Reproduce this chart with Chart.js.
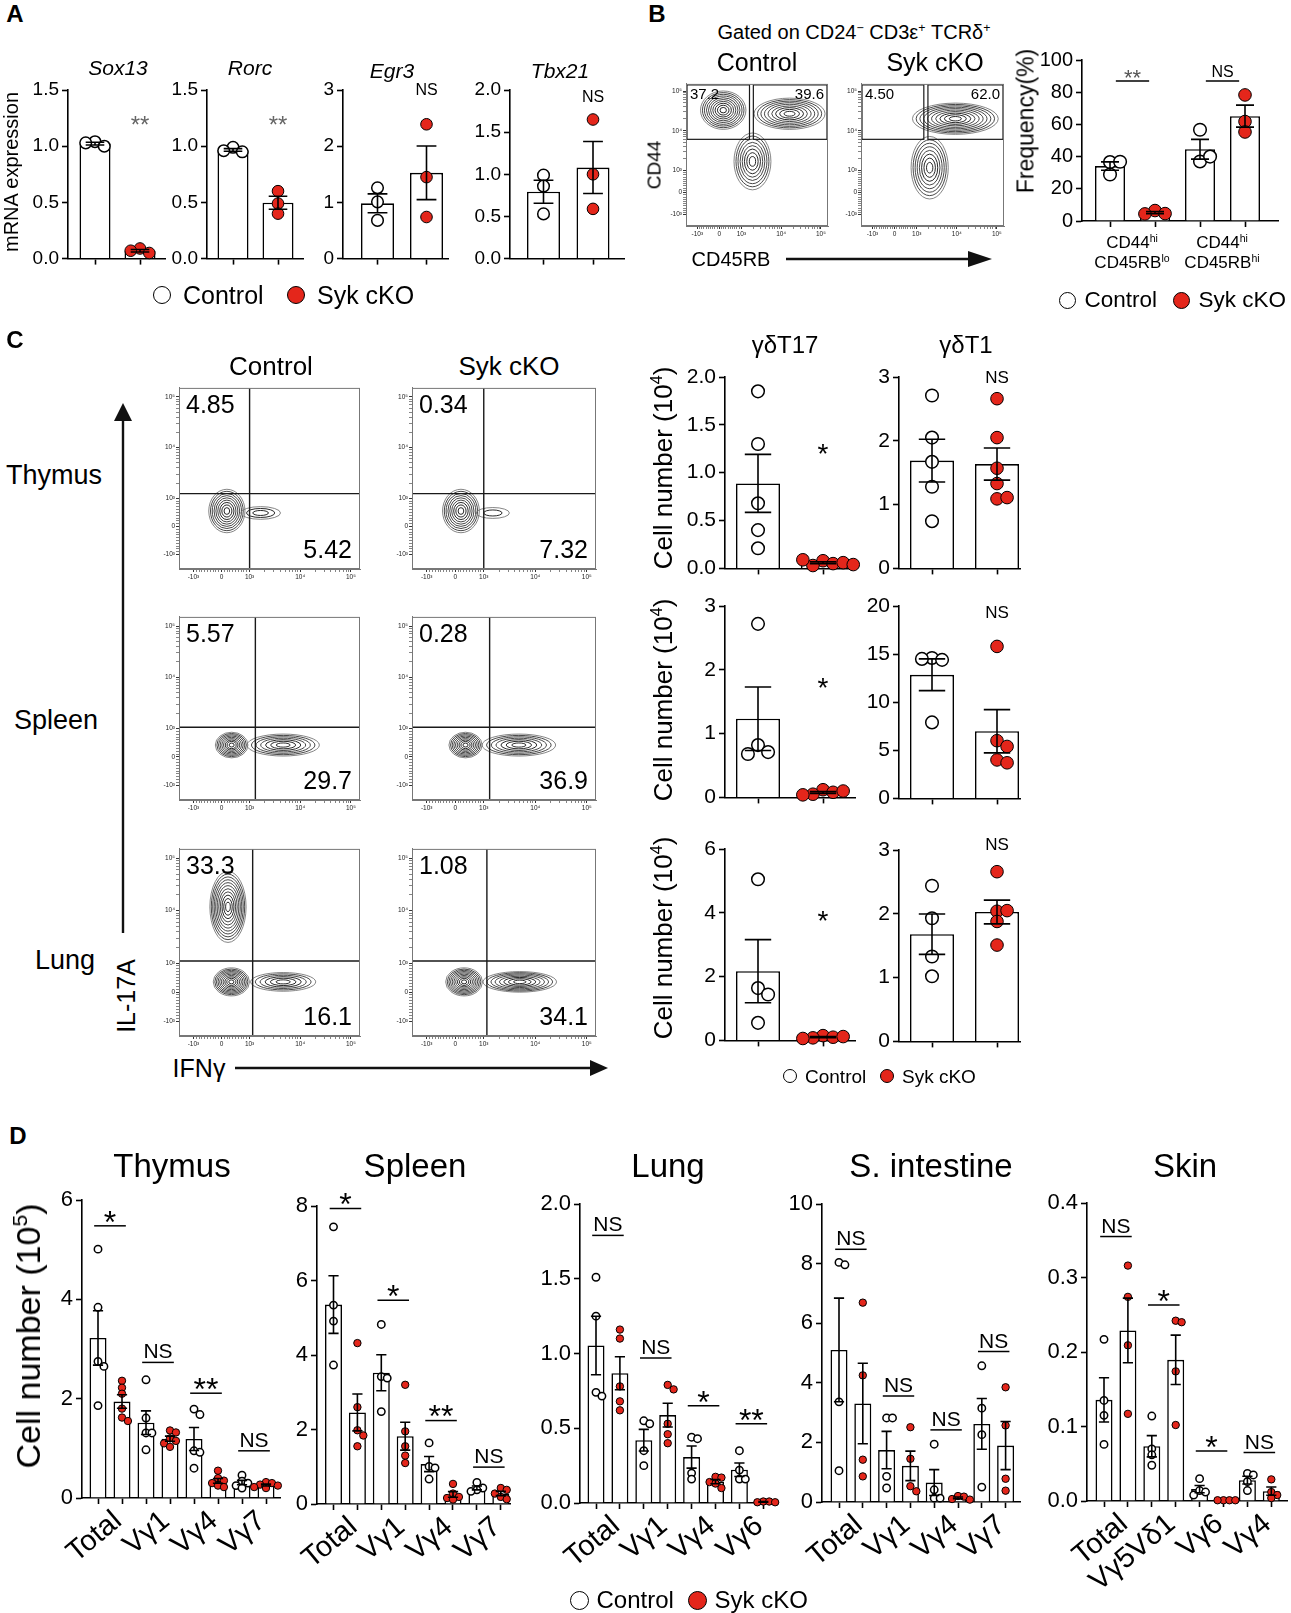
<!DOCTYPE html>
<html>
<head>
<meta charset="utf-8">
<script src="https://cdn.jsdelivr.net/npm/chart.js@4.4.1/dist/chart.umd.min.js"></script>
<style>
  html, body { margin: 0; padding: 0; background: #fff; }
  #page { position: relative; width: 1291px; height: 1613px; overflow: hidden; background: #fff;
          font-family: "Liberation Sans", Arial, sans-serif; }
  #page canvas { position: absolute; }
  .t { position: absolute; white-space: nowrap; color: #000; line-height: 1; }
  .t sup { font-size: 0.62em; vertical-align: 0.6em; line-height: 0; }
  .dot { position: absolute; border-radius: 50%; box-sizing: border-box; }
</style>
</head>
<body>
<div id="page"></div>
<script>
Chart.defaults.font.family = '"Liberation Sans", Arial, sans-serif';
Chart.defaults.color = '#000';

var RED = '#e4261b';
var page = document.getElementById('page');

// ---- A : mRNA expression (3 mice per group)
var sox13Ctrl = [1.04, 1.00, 1.03];
var sox13Cko  = [0.09, 0.05, 0.07];
var rorcCtrl  = [0.99, 0.95, 0.96];
var rorcCko   = [0.60, 0.49, 0.40];
var egr3Ctrl  = [1.26, 1.01, 0.68];
var egr3Cko   = [2.39, 1.45, 0.74];
var tbx21Ctrl = [0.99, 0.86, 0.53];
var tbx21Cko  = [1.65, 1.00, 0.59];

// ---- B : frequency of CD44hi subsets
var freqCtrl = [[36.6, 36.8, 28.9], [56.7, 37.0, 40.0]];
var freqCko  = [[6.5, 4.6, 4.4], [78.3, 61.8, 55.3]];
var freqSig  = [['**', 87], ['NS', 87]];

// ---- C : gdT17 / gdT1 cell numbers (10^4)
var t17ThyCtrl = [1.85, 1.30, 0.68, 0.40, 0.21];
var t17ThyCko  = [0.08, 0.05, 0.03, 0.06, 0.09, 0.04];
var t1ThyCtrl  = [2.71, 2.05, 1.67, 1.28, 0.74];
var t1ThyCko   = [2.66, 2.05, 1.57, 1.33, 1.09, 1.11];
var t17SplCtrl = [2.72, 0.82, 0.71, 0.68];
var t17SplCko  = [0.12, 0.08, 0.05, 0.10, 0.04];
var t1SplCtrl  = [14.6, 14.4, 14.5, 7.9];
var t1SplCko   = [15.8, 6.0, 5.4, 4.0, 3.7];
var t17LunCtrl = [5.05, 1.64, 1.44, 0.55];
var t17LunCko  = [0.15, 0.10, 0.08, 0.12, 0.06];
var t1LunCtrl  = [2.44, 1.93, 1.33, 1.02];
var t1LunCko   = [2.66, 2.04, 2.05, 1.88, 1.51];

// ---- C : flow plots (quadrant %, gates, populations [IFNg, IL-17A, spread x, spread y, rings])
var thyCtrlNums = ['4.85', '5.42'], thyCkoNums = ['0.34', '7.32'];
var splCtrlNums = ['5.57', '29.7'], splCkoNums = ['0.28', '36.9'];
var lunCtrlNums = ['33.3', '16.1'], lunCkoNums = ['1.08', '34.1'];
var thyQuad = [1000, 1240], splQuad = [1300, 1060], lunQuad = [1150, 1090];
var thyCtrlPops = [[190, 550, 0.10, 0.12, 9], [1650, 480, 0.11, 0.035, 3]];
var thyCkoPops  = [[200, 550, 0.10, 0.12, 9], [1500, 480, 0.09, 0.03, 2]];
var splCtrlPops = [[360, 420, 0.09, 0.07, 9], [4600, 420, 0.20, 0.06, 7]];
var splCkoPops  = [[360, 420, 0.09, 0.07, 9], [4800, 420, 0.20, 0.06, 7]];
var lunCtrlPops = [[350, 350, 0.10, 0.075, 10], [4600, 350, 0.18, 0.05, 6], [230, 11800, 0.10, 0.19, 11]];
var lunCkoPops  = [[310, 350, 0.10, 0.075, 10], [5000, 350, 0.20, 0.055, 8]];

// ---- B : flow plots [CD45RB, CD44, ...]
var bCtrlNums = ['37.2', '39.6'], bCkoNums = ['4.50', '62.0'];
var bCtrlGates = [[null, 1600, 6100, null], [2000, null, 6100, null]];
var bCkoGates  = [[null, 1500, 6100, null], [1900, null, 6100, null]];
var bCtrlPops = [[1900, 1700, 0.13, 0.20, 8], [175, 33000, 0.16, 0.135, 10], [16300, 26800, 0.25, 0.11, 9]];
var bCkoPops  = [[2100, 1180, 0.13, 0.22, 8], [9200, 20100, 0.30, 0.11, 10]];

var flowTickVals = [-1000, 0, 1000, 10000, 100000];
var flowTickText = ['-10³', '0', '10³', '10⁴', '10⁵'];

// ---- D : cell numbers (10^5) per subset
var thyCats = ['Total', 'Vγ1', 'Vγ4', 'Vγ7'];
var thyCtrl = [[5.01, 3.84, 2.75, 2.65, 1.86], [2.38, 1.61, 1.31, 1.31, 0.97], [1.79, 1.68, 0.95, 0.92, 0.60], [0.46, 0.34, 0.30, 0.25, 0.20]];
var thyCko  = [[2.36, 2.22, 2.10, 1.80, 1.62, 1.55], [1.36, 1.32, 1.20, 1.15, 1.10, 1.03], [0.55, 0.40, 0.35, 0.30, 0.25, 0.22], [0.32, 0.30, 0.27, 0.25, 0.22, 0.20]];
var thySig  = [['*', 5.48], ['NS', 2.73], ['**', 2.11], ['NS', 0.95]];

var splCats = ['Total', 'Vγ1', 'Vγ4', 'Vγ7'];
var splCtrl = [[7.44, 5.34, 4.91, 3.73], [4.82, 3.42, 3.38, 2.48], [1.64, 1.01, 0.97, 0.67], [0.58, 0.43, 0.38, 0.34]];
var splCko  = [[4.32, 2.60, 1.98, 1.84, 1.55], [3.20, 1.95, 1.55, 1.30, 1.10], [0.54, 0.28, 0.19, 0.16, 0.12], [0.43, 0.38, 0.28, 0.19, 0.13]];
var splSig  = [['*', 7.93], ['*', 5.47], ['**', 2.24], ['NS', 0.99]];

var lunCats = ['Total', 'Vγ1', 'Vγ4', 'Vγ6'];
var lunCtrl = [[1.51, 1.25, 0.74, 0.715], [0.55, 0.53, 0.35, 0.25], [0.44, 0.43, 0.20, 0.16], [0.35, 0.22, 0.16, 0.16]];
var lunCko  = [[1.16, 1.10, 0.78, 0.68, 0.62], [0.79, 0.76, 0.53, 0.46, 0.40], [0.175, 0.17, 0.14, 0.13, 0.10], [0.01, 0.01, 0.005, 0.005]];
var lunSig  = [['NS', 1.79], ['NS', 0.97], ['*', 0.65], ['**', 0.53]];

var sinCats = ['Total', 'Vγ1', 'Vγ4', 'Vγ7'];
var sinCtrl = [[8.04, 7.96, 3.36, 1.05], [2.82, 2.82, 0.86, 0.47], [1.94, 0.41, 0.13, 0.13], [4.57, 3.15, 2.26, 0.50]];
var sinCko  = [[6.69, 4.25, 1.42, 0.86], [2.51, 1.45, 0.53, 0.36], [0.20, 0.18, 0.10, 0.08], [3.85, 2.57, 0.78, 0.38]];
var sinSig  = [['NS', 8.48], ['NS', 3.56], ['NS', 2.42], ['NS', 5.05]];

var sknCats = ['Total', 'Vγ5Vδ1', 'Vγ6', 'Vγ4'];
var sknCtrl = [[0.217, 0.135, 0.115, 0.076], [0.114, 0.070, 0.062, 0.048], [0.030, 0.014, 0.012, 0.008], [0.037, 0.035, 0.026, 0.014]];
var sknCko  = [[0.316, 0.274, 0.209, 0.117], [0.242, 0.240, 0.174, 0.102], [0.001, 0.001, 0.001, 0.001], [0.029, 0.012, 0.008, 0.004]];
var sknSig  = [['NS', 0.355], ['*', 0.263], ['*', 0.067], ['NS', 0.065]];

// ---------- helpers
function txt(s, x, y, size, o) {
    o = o || {};
    var d = document.createElement('div');
    d.className = 't';
    d.innerHTML = s;
    d.style.fontSize = size + 'px';
    if (o.bold) d.style.fontWeight = 'bold';
    if (o.italic) d.style.fontStyle = 'italic';
    if (o.center) d.style.textAlign = 'center';
    if (o.lh) d.style.lineHeight = o.lh;
    d.style.left = x + 'px';
    d.style.top = y + 'px';
    var tf = o.align == 'left' ? 'translate(0,-50%)' : 'translate(-50%,-50%)';
    if (o.rot) tf += ' rotate(' + o.rot + 'deg)';
    d.style.transform = tf;
    page.appendChild(d);
}

function dot(x, y, r, fill, bw) {
    var d = document.createElement('div');
    d.className = 'dot';
    d.style.left = (x - r) + 'px';
    d.style.top = (y - r) + 'px';
    d.style.width = d.style.height = (2 * r) + 'px';
    d.style.background = fill;
    d.style.border = (bw || 1.5) + 'px solid #000';
    page.appendChild(d);
}

function legend(xc, xr, y, fs, r, gap) {
    dot(xc, y, r, '#fff', 1.5);
    txt('Control', xc + r + gap, y, fs, {align: 'left'});
    dot(xr, y, r, RED, 1);
    txt('Syk cKO', xr + r + gap, y, fs, {align: 'left'});
}

function mean(a) { return a.reduce(function (s, v) { return s + v; }, 0) / a.length; }
function sem(a) {
    var m = mean(a);
    return Math.sqrt(a.reduce(function (s, v) { return s + (v - m) * (v - m); }, 0) / (a.length - 1)) / Math.sqrt(a.length);
}

// spread overlapping dots sideways, like a column scatter
function swarm(vals, ci, dy, dx) {
    var placed = [];
    vals.forEach(function (v) {
        var k = 0, off = 0;
        for (;;) {
            off = k === 0 ? 0 : (k % 2 ? 1 : -1) * Math.ceil(k / 2) * dx;
            var hit = placed.some(function (p) { return Math.abs(p.off - off) < dx * 0.95 && Math.abs(p.y - v) < dy; });
            if (!hit) break;
            k++;
        }
        placed.push({off: off, y: v});
    });
    return placed.map(function (p) { return {x: ci + p.off, y: p.y}; });
}

var errPlugin = {
    id: 'err',
    afterDatasetsDraw: function (chart) {
        var ds = chart.data.datasets[0], meta = chart.getDatasetMeta(0), y = chart.scales.y, ctx = chart.ctx;
        ctx.save();
        ctx.strokeStyle = '#000';
        ctx.lineWidth = ds.extra.lw;
        meta.data.forEach(function (el, i) {
            var m = ds.means[i], s = ds.sem[i];
            if (!(s > 0)) return;
            var y0 = y.getPixelForValue(m - s), y1 = y.getPixelForValue(m + s), cw = el.width * 0.3;
            ctx.beginPath();
            ctx.moveTo(el.x, y0); ctx.lineTo(el.x, y1);
            ctx.moveTo(el.x - cw, y0); ctx.lineTo(el.x + cw, y0);
            ctx.moveTo(el.x - cw, y1); ctx.lineTo(el.x + cw, y1);
            ctx.stroke();
        });
        ctx.restore();
    }
};

var sigPlugin = {
    id: 'sigmarks',
    afterDatasetsDraw: function (chart) {
        var e = chart.data.datasets[0].extra;
        if (!e.sig) return;
        var ctx = chart.ctx, x = chart.scales.x, y = chart.scales.y;
        ctx.save();
        ctx.strokeStyle = '#000';
        ctx.lineWidth = 1.5;
        ctx.textAlign = 'center';
        ctx.textBaseline = 'alphabetic';
        e.sig.forEach(function (it, j) {
            var py = y.getPixelForValue(it[1]);
            var ast = it[0].charAt(0) == '*';
            var fs = ast ? e.astFs : e.nsFs;
            ctx.font = fs + 'px "Liberation Sans", Arial, sans-serif';
            ctx.fillStyle = ast && e.astColor ? e.astColor : '#000';
            if (e.sigLine) {
                var a = x.getPixelForValue(2 * j), b = x.getPixelForValue(2 * j + 1);
                var c = (a + b) / 2, hw = (b - a) * e.hw;
                ctx.beginPath();
                ctx.moveTo(c - hw, py); ctx.lineTo(c + hw, py);
                ctx.stroke();
                ctx.fillText(it[0], c, ast ? py - e.astGap + 0.59 * fs : py - 4);
            } else {
                ctx.fillText(it[0], x.getPixelForValue(2 * j + 1), py + (ast ? 0.59 : 0.36) * fs);
            }
        });
        ctx.restore();
    }
};

// bar (mean) + dots + SEM, control / cKO pairs, on one linear x axis
// g: ax = y-axis x pixel, c0 = first bar centre, u = bar spacing, right = end of x axis
function dotPlot(g, ctrl, cko, o) {
    var sets = [];
    ctrl.forEach(function (a, j) { sets.push(a); sets.push(cko[j]); });
    var n = sets.length;
    var w = g.right - g.ax, h = g.bot - g.top;
    var xmin = -(g.c0 - g.ax) / g.u, xmax = xmin + w / g.u;
    var padT = 34, padR = 14;
    var cv = document.createElement('canvas');
    cv.width = w + o.yW + padR;
    cv.height = h + padT + o.xH;
    cv.style.left = (g.ax - o.yW) + 'px';
    cv.style.top = (g.top - padT) + 'px';
    page.appendChild(cv);
    var dx = (1.6 * o.r) / g.u, dy = (1.6 * o.r) / h * o.max;
    var ptsC = [], ptsK = [];
    sets.forEach(function (a, i) {
        var arr = i % 2 ? ptsK : ptsC;
        swarm(a, i, dy, dx).forEach(function (p) { arr.push(p); });
    });
    var means = sets.map(mean);
    var lw = o.lw || 1.6;
    var tickGrid = {drawOnChartArea: false, drawTicks: true, tickLength: 6, tickColor: '#000', tickWidth: lw, offset: false};
    return new Chart(cv, {
        type: 'bar',
        data: {
            datasets: [
                {type: 'bar', data: means.map(function (m, i) { return {x: i, y: m}; }),
                 means: means, sem: sets.map(sem),
                 extra: {lw: lw, sig: o.sig, astFs: o.astFs, nsFs: o.nsFs, astColor: o.astColor,
                         astGap: o.astGap, sigLine: o.sigLine, hw: o.hw},
                 backgroundColor: '#fff', borderColor: '#000', borderWidth: lw, grouped: false,
                 barPercentage: o.barW / g.u, categoryPercentage: 1, order: 3},
                {type: 'scatter', data: ptsC, pointRadius: o.r, pointBackgroundColor: '#fff',
                 pointBorderColor: '#000', pointBorderWidth: 1.5, order: 2, clip: false},
                {type: 'scatter', data: ptsK, pointRadius: o.r, pointBackgroundColor: RED,
                 pointBorderColor: '#000', pointBorderWidth: 1, order: 1, clip: false}
            ]
        },
        options: {
            responsive: false, animation: false, events: [],
            layout: {padding: {top: padT, right: padR, left: 0, bottom: 0}},
            plugins: {legend: {display: false}, tooltip: {enabled: false}},
            scales: {
                x: {type: 'linear', min: xmin, max: xmax, offset: false,
                    afterBuildTicks: function (s) { s.ticks = sets.map(function (a, i) { return {value: i}; }); },
                    grid: tickGrid,
                    border: {color: '#000', width: lw},
                    ticks: {display: !!o.labels, autoSkip: false, maxRotation: 40, minRotation: 40,
                            font: {size: o.labelFs || 12}, padding: 0, labelOffset: g.u * 0.5 + 8,
                            callback: function (v) {
                                var i = Math.round(v);
                                return (o.labels && i % 2 === 0) ? o.labels[i / 2] : '';
                            }},
                    afterFit: function (s) { s.height = o.xH; }},
                y: {type: 'linear', min: 0, max: o.max,
                    ticks: {stepSize: o.step, font: {size: o.fs}, padding: 3,
                            callback: function (v) { return Number(v).toFixed(o.dec); }},
                    grid: tickGrid,
                    border: {color: '#000', width: lw},
                    afterFit: function (s) { s.width = o.yW; }}
            }
        },
        plugins: [errPlugin, sigPlugin]
    });
}

// ---------- flow cytometry plots (biexponential-like display axis)
function T(v) { return v <= 1000 ? 0.235 + 0.155 * v / 1000 : 0.39 + 0.28 * Math.log10(v / 1000); }
var flowMinor = [];
for (var k = 1; k < 10; k++) {
    flowMinor.push(-k * 100, k * 100);
    if (k > 1) flowMinor.push(k * 1000, k * 10000);
}
function flowTicks(s) {
    var tk = flowTickVals.map(function (v) { return {value: T(v), major: true}; })
        .concat(flowMinor.map(function (v) { return {value: T(v), major: false}; }));
    tk.sort(function (a, b) { return a.value - b.value; });
    s.ticks = tk;
}
function flowLabel(v) {
    for (var i = 0; i < flowTickVals.length; i++) if (Math.abs(T(flowTickVals[i]) - v) < 1e-9) return flowTickText[i];
    return '';
}

var flowPlugin = {
    id: 'flow',
    afterDatasetsDraw: function (chart) {
        var F = chart.data.datasets[0].flow;
        var ctx = chart.ctx, xs = chart.scales.x, ys = chart.scales.y, a = chart.chartArea;
        var px = function (v) { return xs.getPixelForValue(T(v)); };
        var py = function (v) { return ys.getPixelForValue(T(v)); };
        ctx.save();
        ctx.beginPath();
        ctx.rect(a.left, a.top, a.right - a.left, a.bottom - a.top);
        ctx.clip();
        F.pops.forEach(function (p) {
            var cx = px(p[0]), cy = py(p[1]);
            var rx = p[2] * (a.right - a.left), ry = p[3] * (a.bottom - a.top), n = p[4];
            for (var i = n; i >= 1; i--) {
                var f = Math.pow(i / n, 0.85);
                ctx.beginPath();
                ctx.ellipse(cx, cy, rx * f, ry * f, 0, 0, Math.PI * 2);
                ctx.strokeStyle = i == n ? '#777' : (i < 4 ? '#111' : '#333');
                ctx.lineWidth = 0.9;
                ctx.stroke();
            }
        });
        ctx.restore();

        ctx.save();
        ctx.strokeStyle = '#1a1a1a';
        ctx.lineWidth = 1.4;
        if (F.quad) {
            var qx = px(F.quad[0]), qy = py(F.quad[1]);
            ctx.beginPath();
            ctx.moveTo(qx, a.top); ctx.lineTo(qx, a.bottom);
            ctx.moveTo(a.left, qy); ctx.lineTo(a.right, qy);
            ctx.stroke();
        }
        var gx = [];
        if (F.gates) {
            ctx.lineWidth = 1.2;
            F.gates.forEach(function (gt) {
                var x0 = gt[0] === null ? a.left + 1 : px(gt[0]);
                var x1 = gt[1] === null ? a.right - 1 : px(gt[1]);
                var y0 = gt[3] === null ? a.top + 1 : py(gt[3]);
                var y1 = py(gt[2]);
                ctx.strokeRect(x0, y0, x1 - x0, y1 - y0);
                gx.push([x0, x1]);
            });
        }
        ctx.strokeStyle = '#777';
        ctx.lineWidth = 1;
        ctx.strokeRect(a.left + 0.5, a.top + 0.5, a.right - a.left - 1, a.bottom - a.top - 1);

        ctx.fillStyle = '#000';
        ctx.font = F.fs + 'px "Liberation Sans", Arial, sans-serif';
        ctx.textBaseline = 'alphabetic';
        var cap = F.fs * 0.72;
        if (F.gates) {
            ctx.textAlign = 'left';
            ctx.fillText(F.nums[0], gx[0][0] + 3, a.top + 4 + cap);
            ctx.textAlign = 'right';
            ctx.fillText(F.nums[1], gx[1][1] - 3, a.top + 4 + cap);
        } else {
            ctx.textAlign = 'left';
            ctx.fillText(F.nums[0], a.left + 7, a.top + 7 + cap);
            ctx.textAlign = 'right';
            ctx.fillText(F.nums[1], a.right - 8, a.bottom - 11);
        }
        ctx.restore();
    }
};

function flowPlot(f, pops, cfg) {
    var yW = 26, xH = 17, pad = 2;
    var w = f.r - f.l, h = f.b - f.t;
    var cv = document.createElement('canvas');
    cv.width = w + yW + pad;
    cv.height = h + pad + xH;
    cv.style.left = (f.l - yW) + 'px';
    cv.style.top = (f.t - pad) + 'px';
    page.appendChild(cv);
    function axis() {
        return {
            type: 'linear', min: 0, max: 1,
            afterBuildTicks: flowTicks,
            ticks: {autoSkip: false, maxRotation: 0, minRotation: 0, font: {size: 6.5}, color: '#222', padding: 1, callback: flowLabel},
            grid: {drawOnChartArea: false, tickLength: 3, tickColor: '#333',
                   tickWidth: function (c) { return c.tick && c.tick.major ? 1 : 0.6; }},
            border: {color: '#777', width: 1}
        };
    }
    var xs = axis(), ys = axis();
    xs.afterFit = function (s) { s.height = xH; };
    ys.afterFit = function (s) { s.width = yW; };
    new Chart(cv, {
        type: 'scatter',
        data: {datasets: [{data: [], flow: Object.assign({pops: pops}, cfg)}]},
        options: {
            responsive: false, animation: false, events: [],
            layout: {padding: {top: pad, right: pad, left: 0, bottom: 0}},
            plugins: {legend: {display: false}, tooltip: {enabled: false}},
            scales: {x: xs, y: ys}
        },
        plugins: [flowPlugin]
    });
}

// ================= PANEL A
txt('A', 15, 14, 24, {bold: true});
var aOpt = {yW: 50, xH: 12, fs: 19, r: 5.8, barW: 31, astFs: 24, astColor: '#666', nsFs: 16};
dotPlot({ax: 68, c0: 95, u: 45, right: 165, top: 90, bot: 261}, [sox13Ctrl], [sox13Cko],
    Object.assign({max: 1.5, step: 0.5, dec: 1, sig: [['**', 1.245]]}, aOpt));
dotPlot({ax: 207, c0: 233, u: 45, right: 303, top: 90, bot: 261}, [rorcCtrl], [rorcCko],
    Object.assign({max: 1.5, step: 0.5, dec: 1, sig: [['**', 1.245]]}, aOpt));
dotPlot({ax: 343, c0: 377.5, u: 49, right: 448, top: 90, bot: 261}, [egr3Ctrl], [egr3Cko],
    Object.assign({max: 3, step: 1, dec: 0, sig: [['NS', 3.01]]}, aOpt, {barW: 33}));
dotPlot({ax: 510, c0: 543.5, u: 49.5, right: 624, top: 90, bot: 261}, [tbx21Ctrl], [tbx21Cko],
    Object.assign({max: 2, step: 0.5, dec: 1, sig: [['NS', 1.93]]}, aOpt, {barW: 33}));
txt('Sox13', 118, 67, 21, {italic: true});
txt('Rorc', 250, 67, 21, {italic: true});
txt('Egr3', 392, 70, 21, {italic: true});
txt('Tbx21', 560, 70, 21, {italic: true});
txt('mRNA expression', 11, 172, 20, {rot: -90});
legend(162, 296, 295, 25, 9, 12);

// ================= PANEL B
txt('B', 657, 14, 24, {bold: true});
txt('Gated on CD24<sup>−</sup> CD3ε<sup>+</sup> TCRδ<sup>+</sup>', 854, 32, 20);
txt('Control', 757, 62, 25);
txt('Syk cKO', 935, 62, 25);
flowPlot({l: 686, t: 81, r: 828, b: 226}, bCtrlPops, {gates: bCtrlGates, nums: bCtrlNums, fs: 15});
flowPlot({l: 861, t: 81, r: 1004, b: 226}, bCkoPops, {gates: bCkoGates, nums: bCkoNums, fs: 15});
txt('CD44', 654, 165, 19, {rot: -90});
txt('CD45RB', 731, 259, 20);
dotPlot({ax: 1082, c0: 1110, u: 45, right: 1278, top: 60, bot: 224}, freqCtrl, freqCko,
    {max: 100, step: 20, dec: 0, yW: 55, xH: 12, fs: 20, r: 6.3, barW: 30, sig: freqSig,
     astFs: 22, astColor: '#555', astGap: 9, nsFs: 16, sigLine: true, hw: 0.37});
txt('Frequency(%)', 1026, 121, 23, {rot: -90});
txt('CD44<sup>hi</sup><br>CD45RB<sup>lo</sup>', 1132, 253, 17, {center: true, lh: '20px'});
txt('CD44<sup>hi</sup><br>CD45RB<sup>hi</sup>', 1222, 253, 17, {center: true, lh: '20px'});
legend(1067, 1181, 300, 22.5, 8.5, 9);

// ================= PANEL C
txt('C', 15, 340, 24, {bold: true});
txt('Control', 271, 366, 26);
txt('Syk cKO', 509, 366, 26);
txt('Thymus', 54, 475, 27);
txt('Spleen', 56, 720, 27);
txt('Lung', 65, 960, 27);
var cRows = [[385, 569], [614, 800], [846, 1036]];
var cL = [179, 360], cR = [412, 596];
flowPlot({l: cL[0], t: cRows[0][0], r: cL[1], b: cRows[0][1]}, thyCtrlPops, {quad: thyQuad, nums: thyCtrlNums, fs: 25});
flowPlot({l: cR[0], t: cRows[0][0], r: cR[1], b: cRows[0][1]}, thyCkoPops, {quad: thyQuad, nums: thyCkoNums, fs: 25});
flowPlot({l: cL[0], t: cRows[1][0], r: cL[1], b: cRows[1][1]}, splCtrlPops, {quad: splQuad, nums: splCtrlNums, fs: 25});
flowPlot({l: cR[0], t: cRows[1][0], r: cR[1], b: cRows[1][1]}, splCkoPops, {quad: splQuad, nums: splCkoNums, fs: 25});
flowPlot({l: cL[0], t: cRows[2][0], r: cL[1], b: cRows[2][1]}, lunCtrlPops, {quad: lunQuad, nums: lunCtrlNums, fs: 25});
flowPlot({l: cR[0], t: cRows[2][0], r: cR[1], b: cRows[2][1]}, lunCkoPops, {quad: lunQuad, nums: lunCkoNums, fs: 25});
txt('IL-17A', 126, 996, 25, {rot: -90});
txt('IFNγ', 199, 1068, 25);

var cOpt = {yW: 52, xH: 12, fs: 21, r: 6.3, barW: 44, astFs: 28, nsFs: 17};
dotPlot({ax: 725, c0: 758, u: 65, right: 855, top: 377, bot: 572}, [t17ThyCtrl], [t17ThyCko],
    Object.assign({max: 2, step: 0.5, dec: 1, sig: [['*', 1.27]]}, cOpt));
dotPlot({ax: 899, c0: 932, u: 65, right: 1020, top: 377, bot: 572}, [t1ThyCtrl], [t1ThyCko],
    Object.assign({max: 3, step: 1, dec: 0, sig: [['NS', 3.0]]}, cOpt));
dotPlot({ax: 725, c0: 758, u: 65, right: 855, top: 606, bot: 801}, [t17SplCtrl], [t17SplCko],
    Object.assign({max: 3, step: 1, dec: 0, sig: [['*', 1.83]]}, cOpt));
dotPlot({ax: 899, c0: 932, u: 65, right: 1020, top: 606, bot: 802}, [t1SplCtrl], [t1SplCko],
    Object.assign({max: 20, step: 5, dec: 0, sig: [['NS', 19.4]]}, cOpt));
dotPlot({ax: 725, c0: 758, u: 65, right: 855, top: 849, bot: 1044}, [t17LunCtrl], [t17LunCko],
    Object.assign({max: 6, step: 2, dec: 0, sig: [['*', 3.97]]}, cOpt));
dotPlot({ax: 899, c0: 932, u: 65, right: 1020, top: 850, bot: 1045}, [t1LunCtrl], [t1LunCko],
    Object.assign({max: 3, step: 1, dec: 0, sig: [['NS', 3.09]]}, cOpt));
txt('γδT17', 785, 345, 24);
txt('γδT1', 966, 345, 24);
txt('Cell number (10<sup>4</sup>)', 663, 468, 26, {rot: -90});
txt('Cell number (10<sup>4</sup>)', 663, 700, 26, {rot: -90});
txt('Cell number (10<sup>4</sup>)', 663, 938, 26, {rot: -90});
legend(790, 887, 1076, 19, 7, 8);

// ================= PANEL D
txt('D', 18, 1136, 24, {bold: true});
var dOpt = {yW: 50, xH: 95, fs: 22, r: 3.7, barW: 17, labelFs: 29, astFs: 32, astGap: 12, nsFs: 21, sigLine: true, hw: 0.66};
dotPlot({ax: 82, c0: 98, u: 24, right: 280, top: 1200, bot: 1498}, thyCtrl, thyCko,
    Object.assign({max: 6, step: 2, dec: 0, labels: thyCats, sig: thySig}, dOpt));
dotPlot({ax: 317, c0: 333.5, u: 23.9, right: 510, top: 1206, bot: 1504}, splCtrl, splCko,
    Object.assign({max: 8, step: 2, dec: 0, labels: splCats, sig: splSig}, dOpt));
dotPlot({ax: 580, c0: 596, u: 23.9, right: 778, top: 1204, bot: 1503}, lunCtrl, lunCko,
    Object.assign({max: 2, step: 0.5, dec: 1, labels: lunCats, sig: lunSig}, dOpt));
dotPlot({ax: 822, c0: 839, u: 23.8, right: 1020, top: 1204, bot: 1502}, sinCtrl, sinCko,
    Object.assign({max: 10, step: 2, dec: 0, labels: sinCats, sig: sinSig}, dOpt));
dotPlot({ax: 1087, c0: 1104, u: 23.9, right: 1287, top: 1203, bot: 1501}, sknCtrl, sknCko,
    Object.assign({max: 0.4, step: 0.1, dec: 1, labels: sknCats, sig: sknSig}, dOpt));
txt('Thymus', 172, 1165, 33);
txt('Spleen', 415, 1165, 33);
txt('Lung', 668, 1165, 33);
txt('S. intestine', 931, 1165, 33);
txt('Skin', 1185, 1165, 33);
txt('Cell number (10<sup>5</sup>)', 28, 1336, 34, {rot: -90});
legend(579, 697, 1600, 24, 9.5, 8);

// arrows (B: CD45RB, C: IL-17A and IFNγ)
var svg = document.createElementNS('http://www.w3.org/2000/svg', 'svg');
svg.setAttribute('width', 1291);
svg.setAttribute('height', 1613);
svg.style.position = 'absolute';
svg.style.left = '0px';
svg.style.top = '0px';
svg.innerHTML =
    '<line x1="786" y1="259" x2="972" y2="259" stroke="#111" stroke-width="2.6"/>' +
    '<polygon points="992,259 968,251 968,267" fill="#111"/>' +
    '<line x1="123" y1="933" x2="123" y2="418" stroke="#111" stroke-width="2.4"/>' +
    '<polygon points="123,403 114,421 132,421" fill="#111"/>' +
    '<line x1="235" y1="1068" x2="592" y2="1068" stroke="#111" stroke-width="2.4"/>' +
    '<polygon points="608,1068 590,1060 590,1076" fill="#111"/>';
page.appendChild(svg);
</script>
</body>
</html>
